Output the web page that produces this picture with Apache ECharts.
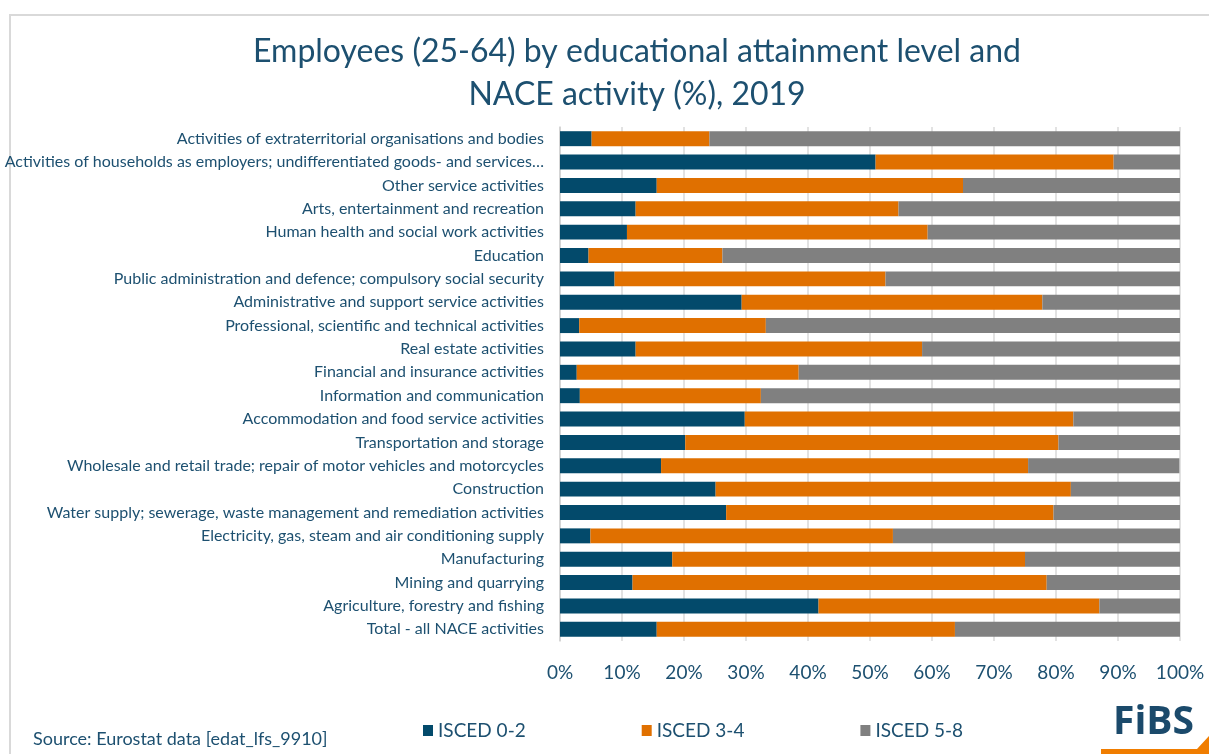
<!DOCTYPE html>
<html>
<head>
<meta charset="utf-8">
<script src="https://cdn.jsdelivr.net/npm/echarts@6/dist/echarts.min.js"></script>
<style>
html,body{margin:0;padding:0;background:#fff;}
#chart{width:1209px;height:754px;}
</style>
</head>
<body>
<div id="chart"></div>
<script>
// Categories, top to bottom
const categories = [
  "Activities of extraterritorial organisations and bodies",
  "Activities of households as employers; undifferentiated goods- and services-producing activities of households for own use",
  "Other service activities",
  "Arts, entertainment and recreation",
  "Human health and social work activities",
  "Education",
  "Public administration and defence; compulsory social security",
  "Administrative and support service activities",
  "Professional, scientific and technical activities",
  "Real estate activities",
  "Financial and insurance activities",
  "Information and communication",
  "Accommodation and food service activities",
  "Transportation and storage",
  "Wholesale and retail trade; repair of motor vehicles and motorcycles",
  "Construction",
  "Water supply; sewerage, waste management and remediation activities",
  "Electricity, gas, steam and air conditioning supply",
  "Manufacturing",
  "Mining and quarrying",
  "Agriculture, forestry and fishing",
  "Total - all NACE activities"
];
const isced02 = [5.1, 50.9, 15.6, 12.2, 10.8, 4.6, 8.8, 29.3, 3.1, 12.2, 2.7, 3.2, 29.8, 20.2, 16.3, 25.1, 26.8, 4.9, 18.1, 11.7, 41.7, 15.6];
const isced34 = [19.0, 38.4, 49.4, 42.4, 48.5, 21.6, 43.7, 48.5, 30.1, 46.2, 35.8, 29.2, 53.0, 60.2, 59.2, 57.3, 52.8, 48.8, 56.9, 66.8, 45.3, 48.1];
const isced58 = [75.9, 10.7, 35.0, 45.4, 40.7, 73.8, 47.5, 22.2, 66.8, 41.6, 61.5, 67.6, 17.2, 19.6, 24.4, 17.6, 20.4, 46.3, 25.0, 21.5, 13.0, 36.3];
const seriesNames = ["ISCED 0-2", "ISCED 3-4", "ISCED 5-8"];
const xTicks = [0, 10, 20, 30, 40, 50, 60, 70, 80, 90, 100];

const textColor = "#1d5070";
const font = "Lato, 'Noto Sans', sans-serif";
const chart = echarts.init(document.getElementById('chart'), null, {renderer: 'canvas'});
const colors = ["#034a6b", "#e07000", "#808080"];
const vals = [isced02, isced34, isced58];

chart.setOption({
  animation: false,
  backgroundColor: "#fff",
  title: {
    text: "Employees (25-64) by educational attainment level and\nNACE activity (%), 2019",
    left: 632, top: 25, textAlign: 'center',
    textStyle: {fontFamily: font, fontSize: 32, fontWeight: 'normal', color: textColor, lineHeight: 43}
  },
  legend: {
    left: 418, top: 716,
    itemWidth: 10, itemHeight: 11, itemGap: 116,
    icon: 'rect',
    textStyle: {fontFamily: font, fontSize: 19, color: textColor},
    data: seriesNames
  },
  grid: {left: 560, right: 29, top: 127, bottom: 113, containLabel: false},
  xAxis: {
    type: 'value', min: xTicks[0], max: xTicks[xTicks.length - 1], interval: 10,
    axisLine: {show: false}, axisTick: {show: false},
    splitLine: {show: true, lineStyle: {color: '#d9d9d9', width: 1.5}},
    axisLabel: {formatter: '{value}%', margin: 22, fontFamily: font, fontSize: 19, color: textColor}
  },
  yAxis: {
    type: 'category', data: categories, inverse: true,
    axisLine: {show: true, lineStyle: {color: '#d0d0d0', width: 1.5}},
    axisTick: {show: false},
    axisLabel: {margin: 16, fontFamily: font, fontSize: 16, color: textColor,
      width: 546, overflow: 'truncate', ellipsis: '…'}
  },
  series: seriesNames.map((n, i) => ({
    name: n, type: 'bar', stack: 'total', data: vals[i],
    barCategoryGap: '36%',
    itemStyle: {color: colors[i]}
  })),
  graphic: [
    {type: 'rect', shape: {x: 10, y: 15, width: 1400, height: 1000}, style: {fill: 'none', stroke: '#d9d9d9', lineWidth: 2}, z: -10},
    {type: 'text', left: 33, top: 730, style: {text: 'Source: Eurostat data [edat_lfs_9910]', font: "18px Lato, 'Noto Sans', sans-serif", fill: textColor}},
    {type: 'text', left: 1113, top: 703, style: {text: 'FiBS', font: "bold 39px 'Open Sans', 'Noto Sans', sans-serif", fill: '#1b4a6b'}},
    {type: 'polygon', shape: {points: [[1101, 749], [1197, 749], [1209, 736], [1209, 754], [1101, 754]]}, style: {fill: '#f07d00'}}
  ]
});
</script>
</body>
</html>
